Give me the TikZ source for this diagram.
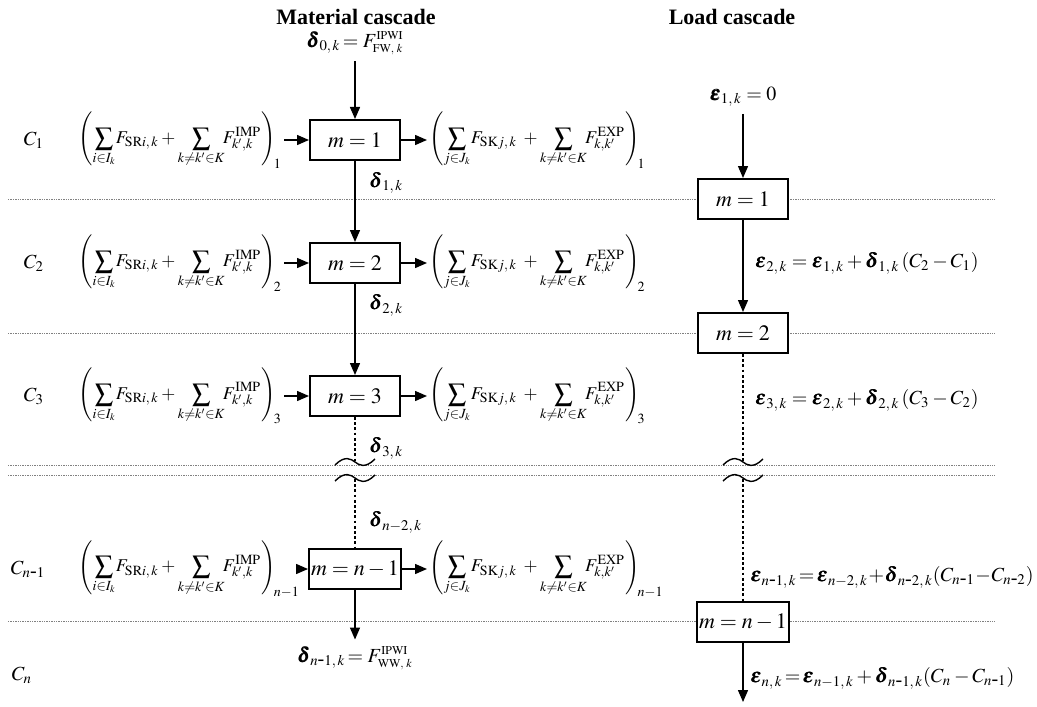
\documentclass[tikz,border=0pt]{standalone}
\usepackage{amsmath,amssymb}
\usepackage{mathptmx}
\usepackage{bm}
\usepackage{fontspec}
\setmainfont{Liberation Serif}
\usetikzlibrary{positioning,arrows.meta}
\newcommand{\hy}{\mbox{-}}
\newcommand{\inflow}[1]{$\displaystyle\left(\sum_{i\in I_k}\!F_{\mathrm{SR}i,\,k}+\sum_{k\neq k'\in K}\!\!F^{\mathrm{IMP}}_{k',k}\right)_{\!#1}$}
\newcommand{\outflow}[1]{$\displaystyle\left(\sum_{j\in J_k}\!F_{\mathrm{SK}j,\,k}\;+\sum_{k\neq k'\in K}\!\!F^{\mathrm{EXP}}_{k,k'}\right)_{\!#1}$}
\newcommand{\brkmark}[2]{\draw[brk] (#1-20,#2+3) .. controls (#1-10,#2-7) and (#1-4,#2-3) .. (#1,#2) .. controls (#1+4,#2+3) and (#1+10,#2+7) .. (#1+20,#2-3);}
\tikzset{
stage/.style={
draw,
line width=1pt,
minimum width=45pt,
minimum height=20pt,
inner sep=1pt,
fill=white,
font=\fontsize{11}{13}\selectfont
},
flow/.style={
inner xsep=1pt,
font=\fontsize{9}{11}\selectfont
},
arrow/.style={
-{Triangle[length=6pt,width=5pt]},
line width=0.7pt
},
dotline/.style={
line width=1.4pt,
dash pattern=on 1.4pt off 1.2pt
},
rowsep/.style={
gray,
line width=0.4pt,
dash pattern=on 0.7pt off 0.5pt
},
brk/.style={
line width=0.7pt
},
head/.style={
font=\fontsize{11}{13}\selectfont\bfseries
}
}
\begin{document}
\begin{tikzpicture}[x=0.5pt,y=-0.5pt,font=\fontsize{10}{12}\selectfont]
\useasboundingbox (0,0) rectangle (1037,706);
% row separators
\foreach \y in {199,333,465,475,621}
\draw[rowsep](8,\y)--(995,\y);
% headings
\node[head](tmat) at (356,17){Material cascade};
\node[head](tload) at (732,17){Load cascade};
% classes
\node(c1) at (34,140){$C_1$};
\node(c2) at (34,263){$C_2$};
\node(c3) at (34,396){$C_3$};
\node(cn1) at (28,569){$C_{n\hy1}$};
\node(cn) at (22,675){$C_n$};
% material cascade
\node(d0) at (355,43){$\bm{\delta}_{0,\,k}\mkern-2mu=F^{\scriptscriptstyle\mathrm{IPWI}}_{\scriptscriptstyle\mathrm{FW},\;k}$};
\node[stage](m1) at (355,140){$m=1$};
\node[stage](m2) at (355,263){$m=2$};
\node[stage](m3) at (355,396){$m=3$};
\node[stage](mn) at (355,569){$m=n-1$};
\node(dn) at (355,658){$\bm{\delta}_{n\hy1,\,k}\mkern-2mu=F^{\scriptscriptstyle\mathrm{IPWI}}_{\scriptscriptstyle\mathrm{WW},\;k}$};
\foreach \n/\y/\s in {1/140/1,2/263/2,3/396/3,n/569/n-1}{
\node[flow,anchor=west](in\n) at (76,\y){\inflow{\s}};
\node[flow,anchor=west](out\n) at (427,\y){\outflow{\s}};
}
\node[anchor=west](d1) at (362,183){$\bm{\delta}_{1,\,k}$};
\node[anchor=west](d2) at (362,305){$\bm{\delta}_{2,\,k}$};
\node[anchor=west](d3) at (362,448){$\bm{\delta}_{3,\,k}$};
\node[anchor=west](dn2) at (362,522){$\bm{\delta}_{n-2,\,k}$};
\coordinate(bm1) at (355,462);
\coordinate(bm2) at (355,479);
% load cascade
\node(e1) at (743,97){$\bm{\varepsilon}_{1,\,k}=0$};
\node[stage](l1) at (743,199){$m=1$};
\node[stage](l2) at (743,333){$m=2$};
\node[stage](ln) at (743,622){$m=n-1$};
\coordinate(bl1) at (743,462);
\coordinate(bl2) at (743,479);
\coordinate(lend) at (743,702);
\node[anchor=west](e2) at (748,263){$\bm{\varepsilon}_{2,\,k}=\bm{\varepsilon}_{1,\,k}+\bm{\delta}_{1,\,k}\,(C_2-C_1)$};
\node[anchor=west](e3) at (748,400){$\bm{\varepsilon}_{3,\,k}=\bm{\varepsilon}_{2,\,k}+\bm{\delta}_{2,\,k}\,(C_3-C_2)$};
\node[anchor=west,inner xsep=1pt](en1) at (748,577){$\bm{\varepsilon}_{n\hy1,\,k}\mkern-2mu=\mkern-2mu\bm{\varepsilon}_{n-2,\,k}\mkern-2mu+\mkern-2mu\bm{\delta}_{n\hy2,\,k}(C_{n\hy1}\mkern-2mu-\mkern-2mu C_{n\hy2})$};
\node[anchor=west,inner xsep=1pt](en) at (748,678){$\bm{\varepsilon}_{n,\,k}\mkern-2mu=\mkern-2mu\bm{\varepsilon}_{n-1,\,k}+\bm{\delta}_{n\hy1,\,k}(C_n-C_{n\hy1})$};
% connectors
\foreach \x/\y in {d0/m1,m1/m2,m2/m3,mn/dn,e1/l1,l1/l2,ln/lend}
\draw[arrow](\x)--(\y);
\foreach \n in {1,2,3,n}{
\draw[arrow](in\n.east)--(m\n);
\draw[arrow](m\n)--(out\n.west);
}
\foreach \x/\y in {m3/bm1,bm2/mn,l2/bl1,bl2/ln}
\draw[dotline](\x)--(\y);
% breaks
\brkmark{355}{462}
\brkmark{355}{478}
\brkmark{743}{462}
\brkmark{743}{478}
\end{tikzpicture}
\end{document}
